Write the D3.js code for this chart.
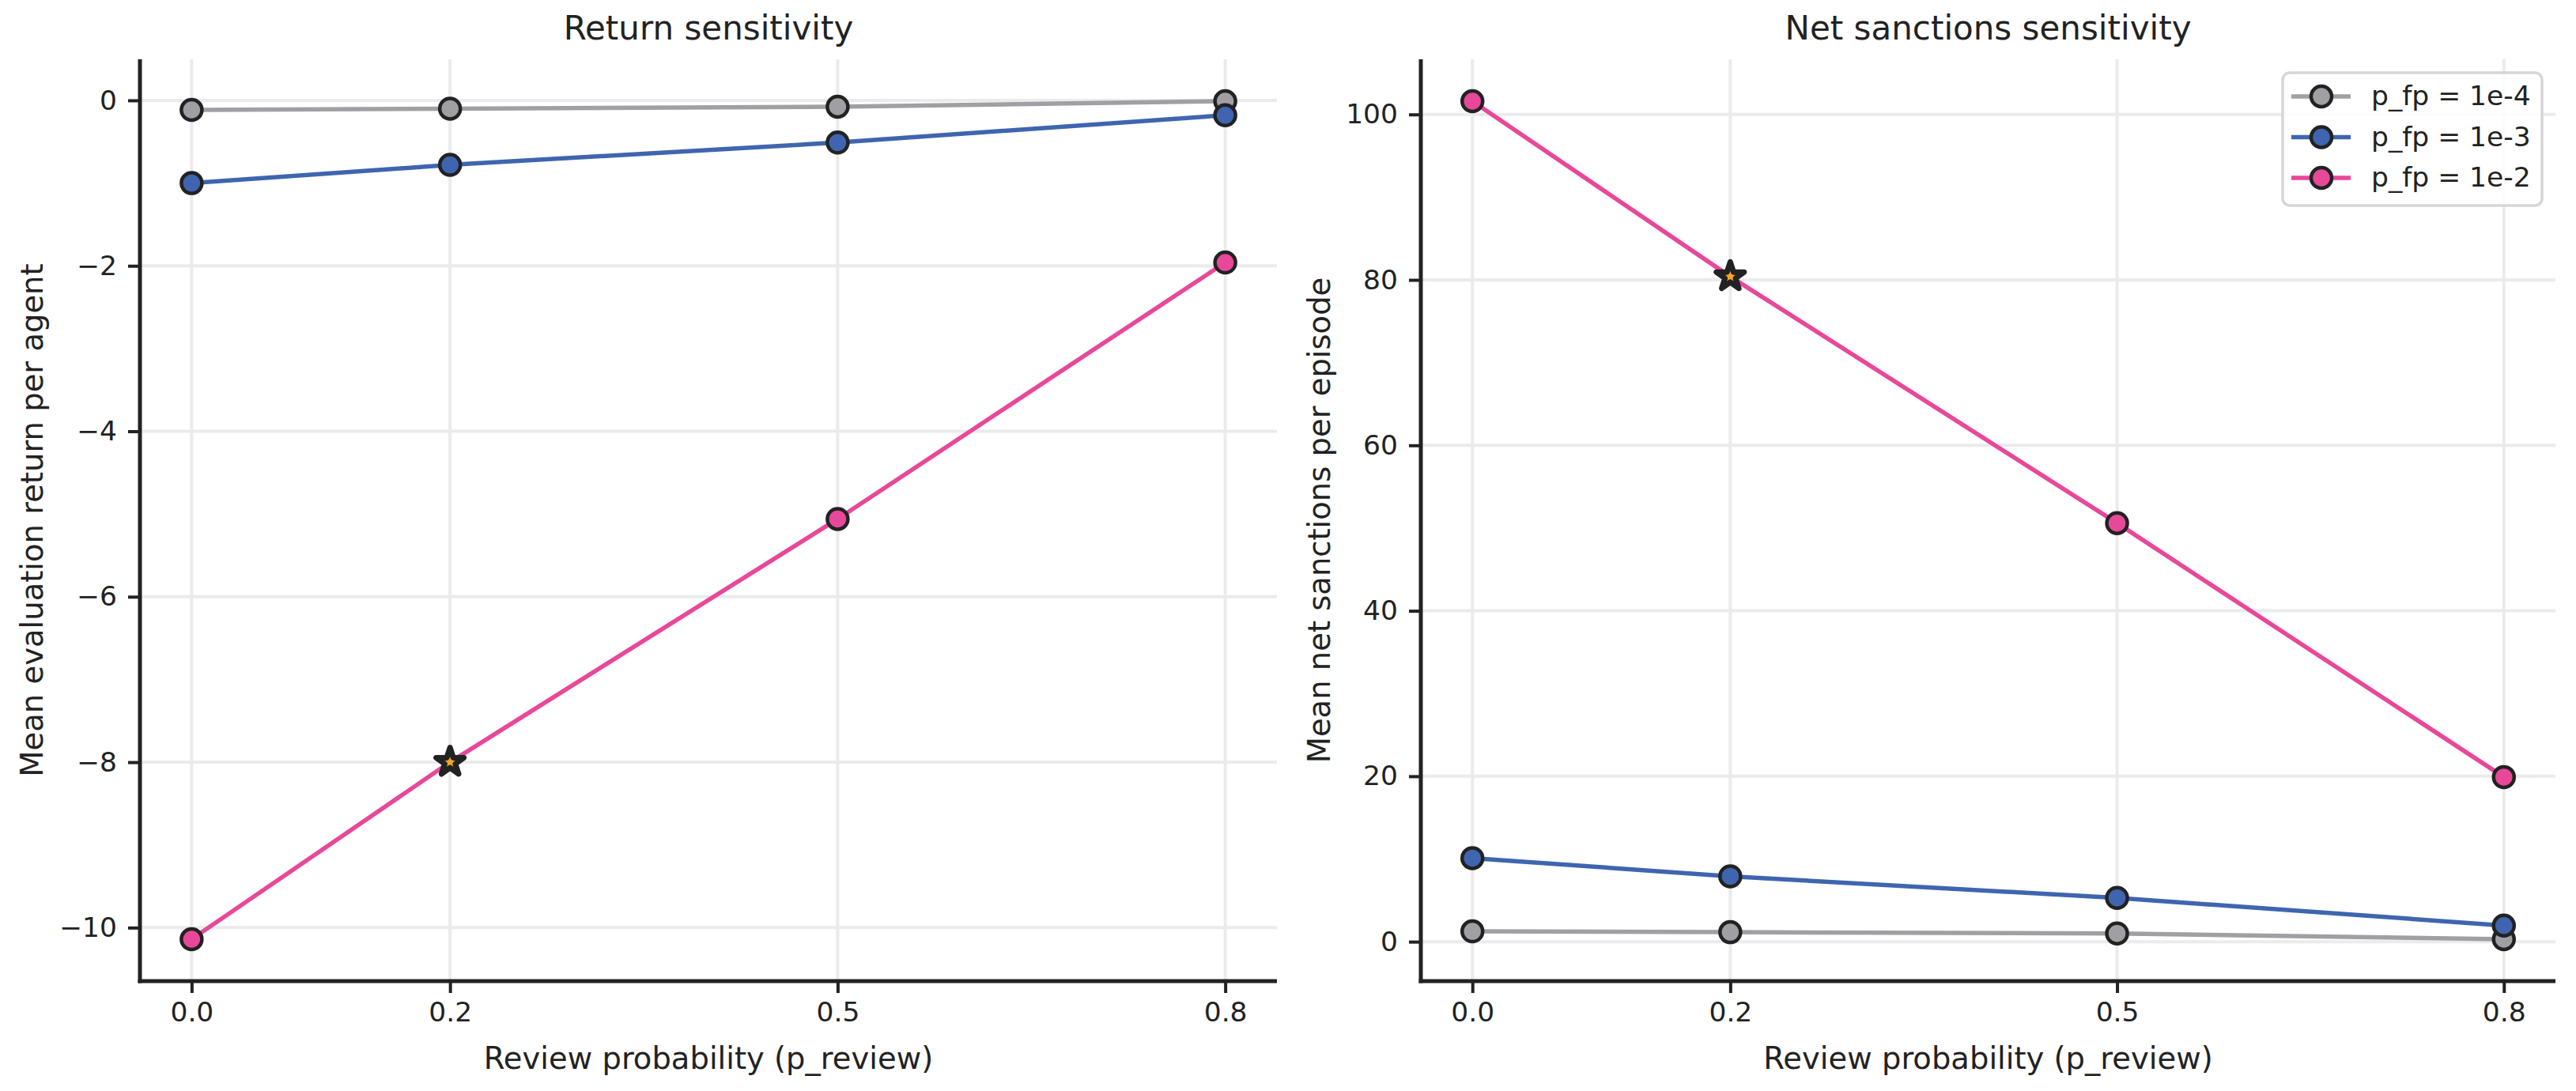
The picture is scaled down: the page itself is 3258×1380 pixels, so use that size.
<!DOCTYPE html>
<html>
<head>
<meta charset="utf-8">
<script src="https://cdn.jsdelivr.net/npm/d3@7"></script>
<style>
  html, body { margin: 0; padding: 0; background: #ffffff; }
  svg { display: block; font-family: "DejaVu Sans", sans-serif; }
</style>
</head>
<body>
<svg id="chart" width="3258" height="1380"></svg>
<script>
// ---- data ----
const pReview = [0.0, 0.2, 0.5, 0.8];
const seriesNames = ["p_fp = 1e-4", "p_fp = 1e-3", "p_fp = 1e-2"];
const seriesColors = ["#a0a0a4", "#3f65b0", "#e8489a"];
const returnFp4 = [-0.115, -0.10, -0.077, -0.01];
const returnFp3 = [-1.00, -0.78, -0.51, -0.18];
const returnFp2 = [-10.14, -8.00, -5.06, -1.96];
const sanctionsFp4 = [1.25, 1.15, 1.0, 0.3];
const sanctionsFp3 = [10.1, 7.9, 5.3, 1.95];
const sanctionsFp2 = [101.6, 80.4, 50.6, 19.9];
const returnTicks = [0, -2, -4, -6, -8, -10];
const sanctionTicks = [0, 20, 40, 60, 80, 100];
const xTicks = [0.0, 0.2, 0.5, 0.8];
const selectedSeries = 2;   // p_fp = 1e-2
const selectedIndex = 1;    // p_review = 0.2

const panels = [
  { title: "Return sensitivity", ylabel: "Mean evaluation return per agent",
    series: [returnFp4, returnFp3, returnFp2], yTicks: returnTicks,
    left: 177, right: 1615, ylabelX: 40, legend: false },
  { title: "Net sanctions sensitivity", ylabel: "Mean net sanctions per episode",
    series: [sanctionsFp4, sanctionsFp3, sanctionsFp2], yTicks: sanctionTicks,
    left: 1797, right: 3232, ylabelX: 1668, legend: true }
];

const plotTop = 75, plotBottom = 1241;
const ink = "#222222";
const svg = d3.select("#chart");

function padded(ext) {
  const p = (ext[1] - ext[0]) * 0.05;
  return [ext[0] - p, ext[1] + p];
}
const fmtY = v => (v < 0 ? "\u2212" + Math.abs(v) : String(v));

panels.forEach(P => {
  const g = svg.append("g");
  const x = d3.scaleLinear().domain(padded(d3.extent(pReview))).range([P.left, P.right]);
  const allY = P.series.flat();
  const y = d3.scaleLinear().domain(padded(d3.extent(allY))).range([plotBottom, plotTop]);

  // grid
  g.append("g").selectAll("line").data(P.yTicks).join("line")
    .attr("x1", P.left).attr("x2", P.right)
    .attr("y1", d => y(d)).attr("y2", d => y(d))
    .attr("stroke", "#ebebeb").attr("stroke-width", 4);
  g.append("g").selectAll("line").data(xTicks).join("line")
    .attr("x1", d => x(d)).attr("x2", d => x(d))
    .attr("y1", plotTop).attr("y2", plotBottom)
    .attr("stroke", "#ebebeb").attr("stroke-width", 4);

  // axes
  const xAxis = d3.axisBottom(x).tickValues(xTicks).tickFormat(d3.format(".1f"))
    .tickSize(15).tickPadding(12);
  const gx = g.append("g").attr("transform", `translate(0,${plotBottom})`).call(xAxis);
  const yAxis = d3.axisLeft(y).tickValues(P.yTicks).tickFormat(fmtY)
    .tickSize(15).tickPadding(14);
  const gy = g.append("g").attr("transform", `translate(${P.left},0)`).call(yAxis);
  [gx, gy].forEach(a => {
    a.select(".domain").remove();
    a.selectAll(".tick line").attr("stroke", ink).attr("stroke-width", 4);
    a.selectAll(".tick text").attr("fill", ink).attr("font-size", 34.5)
      .attr("font-family", "DejaVu Sans");
  });
  // spines
  g.append("line").attr("x1", P.left).attr("x2", P.left).attr("y1", plotTop).attr("y2", plotBottom + 2.5)
    .attr("stroke", ink).attr("stroke-width", 5);
  g.append("line").attr("x1", P.left - 2.5).attr("x2", P.right).attr("y1", plotBottom).attr("y2", plotBottom)
    .attr("stroke", ink).attr("stroke-width", 5);

  // series
  const line = d3.line().x((d, i) => x(pReview[i])).y(d => y(d));
  P.series.forEach((vals, si) => {
    const sg = g.append("g");
    sg.append("path").datum(vals).attr("d", line)
      .attr("fill", "none").attr("stroke", seriesColors[si]).attr("stroke-width", 5.5);
    sg.selectAll("circle").data(vals.map((v, i) => ({ v, i }))
        .filter(d => !(si === selectedSeries && d.i === selectedIndex)))
      .join("circle")
      .attr("cx", d => x(pReview[d.i])).attr("cy", d => y(d.v)).attr("r", 13)
      .attr("fill", seriesColors[si]).attr("stroke", ink).attr("stroke-width", 4.5);
  });

  // selected star
  const sv = P.series[selectedSeries][selectedIndex];
  g.append("path")
    .attr("d", d3.symbol(d3.symbolStar, 380)())
    .attr("transform", `translate(${x(pReview[selectedIndex])},${y(sv)})`)
    .attr("fill", "#f5a623").attr("stroke", ink).attr("stroke-width", 7)
    .attr("stroke-linejoin", "round");

  // titles & labels
  const cx = (P.left + P.right) / 2;
  svg.append("text").attr("x", cx).attr("y", 50).attr("text-anchor", "middle")
    .attr("font-size", 42).attr("fill", ink).text(P.title);
  svg.append("text").attr("x", cx).attr("y", 1352).attr("text-anchor", "middle")
    .attr("font-size", 38.5).attr("fill", ink).text("Review probability (p_review)");
  svg.append("text").attr("transform", `translate(${P.ylabelX},${(plotTop + plotBottom) / 2}) rotate(-90)`)
    .attr("text-anchor", "middle").attr("dominant-baseline", "central")
    .attr("font-size", 38.5).attr("fill", ink).text(P.ylabel);

  // legend
  if (P.legend) {
    const lg = svg.append("g");
    lg.append("rect").attr("x", 2887).attr("y", 92).attr("width", 328).attr("height", 168)
      .attr("rx", 9).attr("fill", "#ffffff").attr("fill-opacity", 0.85)
      .attr("stroke", "#d6d6d6").attr("stroke-width", 3.5);
    seriesNames.forEach((name, si) => {
      const ly = 122 + si * 51.5;
      lg.append("line").attr("x1", 2898).attr("x2", 2973).attr("y1", ly).attr("y2", ly)
        .attr("stroke", seriesColors[si]).attr("stroke-width", 5.5);
      lg.append("circle").attr("cx", 2936).attr("cy", ly).attr("r", 13)
        .attr("fill", seriesColors[si]).attr("stroke", ink).attr("stroke-width", 4.5);
      lg.append("text").attr("x", 2999).attr("y", ly + 11).attr("font-size", 34.5)
        .attr("fill", ink).text(name);
    });
  }
});
</script>
</body>
</html>
